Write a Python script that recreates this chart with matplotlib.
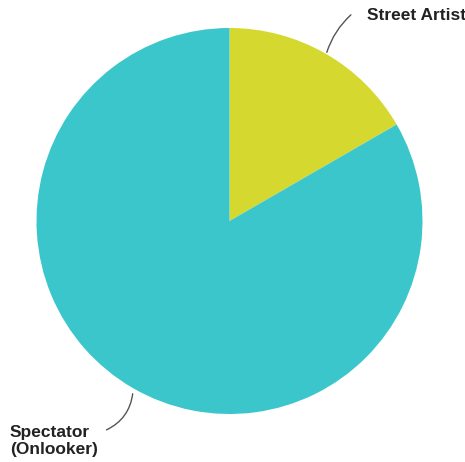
import matplotlib.pyplot as plt

labels = ['Street Artist', 'Spectator\n(Onlooker)']
values = [1, 5]
colors = ['#d5d92f', '#3bc6cb']

W, H = 465, 462
cx, cy, r = 229.5, 221, 193

fig = plt.figure(figsize=(W / 100, H / 100), dpi=100)
ax = fig.add_axes([0, 0, 1, 1])

wedges, _ = ax.pie(values, colors=colors, startangle=90, counterclock=False,
                   wedgeprops=dict(linewidth=0))
ax.set_xlim(-cx / r, (W - cx) / r)
ax.set_ylim(-(H - cy) / r, cy / r)
ax.axis('off')


def px(x, y):
    # pixel position -> data units of the pie
    return (x - cx) / r, (cy - y) / r


font = dict(fontsize=12.5, fontweight='bold', family='Liberation Sans',
            color='#222222')

# leader lines + labels
ax.annotate('', xy=px(326, 55), xytext=px(353, 13),
            arrowprops=dict(arrowstyle='-', color='#555555', lw=1,
                            connectionstyle='arc3,rad=0.15'))
ax.text(*px(367, 15), labels[0], ha='left', va='center', **font)

ax.annotate('', xy=px(133, 391), xytext=px(104, 431),
            arrowprops=dict(arrowstyle='-', color='#555555', lw=1,
                            connectionstyle='arc3,rad=0.3'))
ax.text(*px(10, 441), labels[1], ha='left', va='center', linespacing=1.2,
        **font)

fig.savefig('out.png', dpi=100)
